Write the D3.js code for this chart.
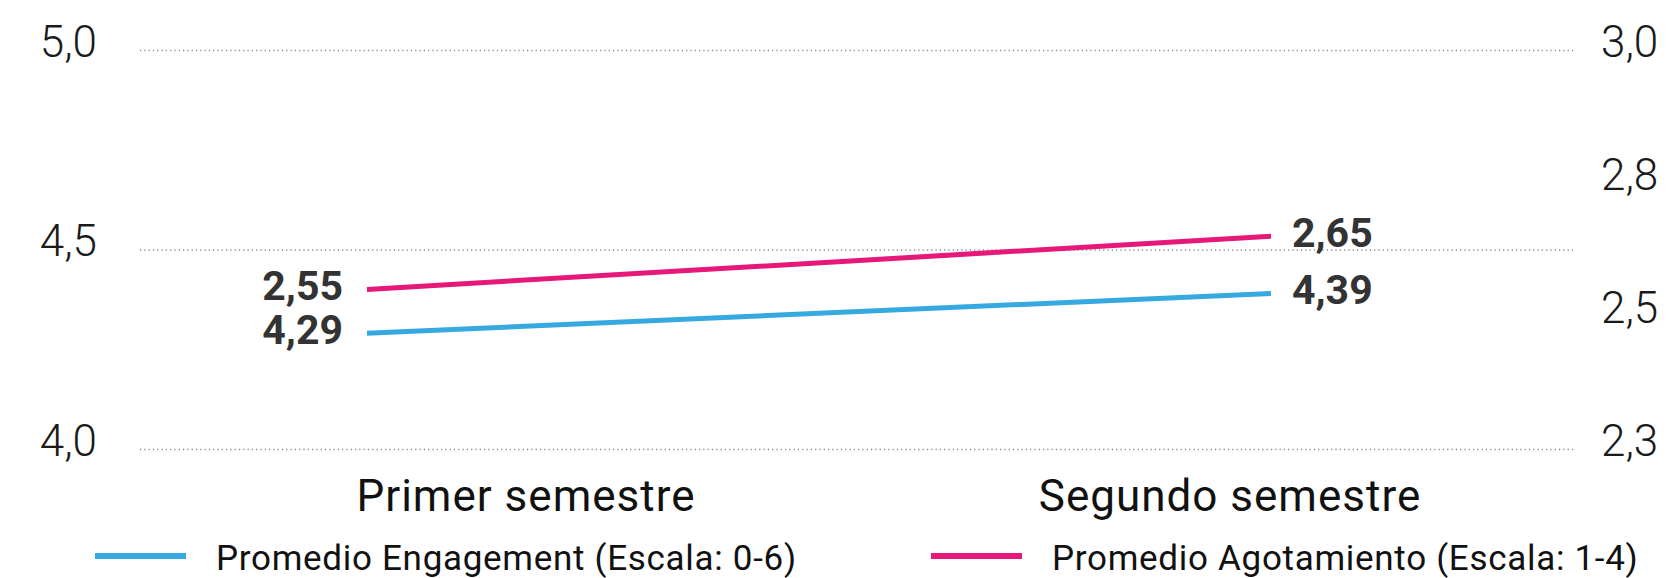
<!DOCTYPE html>
<html>
<head>
<meta charset="utf-8">
<script src="https://cdn.jsdelivr.net/npm/d3@7"></script>
<style>
  html, body { margin: 0; padding: 0; background: #ffffff; }
  svg { display: block; font-family: Roboto, "Open Sans", sans-serif; }
</style>
</head>
<body>
<svg id="chart" width="1669" height="578"></svg>
<script>
// Semester averages: engagement (0-6 scale) on the left axis,
// exhaustion (1-4 scale) on the right axis.
const categories = ["Primer semestre", "Segundo semestre"];
const engagement = [4.29, 4.39];
const agotamiento = [2.55, 2.65];
const leftTicks = [4.0, 4.5, 5.0];
const rightTicks = [2.25, 2.5, 2.75, 3.0];
const seriesNames = ["Promedio Engagement (Escala: 0-6)", "Promedio Agotamiento (Escala: 1-4)"];

const colors = { engagement: "#36a9e1", agotamiento: "#e6197a" };

const es = d3.formatLocale({ decimal: ",", thousands: ".", grouping: [3], currency: ["", " €"] });
const fmtAxis = es.format(".1f");
const fmtValue = es.format(".2f");

const svg = d3.select("#chart");

// Layout
const gridLeft = 140, gridRight = 1573;
const plotTop = 50, plotBottom = 449;

const yL = d3.scaleLinear().domain([4.0, 5.0]).range([plotBottom, plotTop]);
const yR = d3.scaleLinear().domain([2.25, 3.0]).range([plotBottom, plotTop]);
const xLine = d3.scalePoint().domain(categories).range([367, 1271]);
const xCat = d3.scaleBand().domain(categories).range([174, 1582]);

// Dotted horizontal gridlines on the left-axis ticks
const grid = svg.append("g")
  .attr("transform", `translate(${gridLeft},0)`)
  .call(d3.axisLeft(yL).tickValues(leftTicks).tickSize(-(gridRight - gridLeft)).tickFormat(""));
grid.select(".domain").remove();
grid.selectAll(".tick line")
  .attr("stroke", "#8a8a8a")
  .attr("stroke-width", 1.4)
  .attr("stroke-dasharray", "1.2,3.1");

// Left axis labels
const axL = svg.append("g")
  .attr("transform", "translate(97,0)")
  .call(d3.axisLeft(yL).tickValues(leftTicks).tickSize(0).tickPadding(0).tickFormat(fmtAxis));
axL.select(".domain").remove();
axL.selectAll("text")
  .attr("y", -8)
  .attr("fill", "#1a1a1a")
  .style("font-family", "Roboto, sans-serif")
  .style("font-weight", 300)
  .style("font-size", "44px");

// Right axis labels
const axR = svg.append("g")
  .attr("transform", "translate(1601,0)")
  .call(d3.axisRight(yR).tickValues(rightTicks).tickSize(0).tickPadding(0).tickFormat(fmtAxis));
axR.select(".domain").remove();
axR.selectAll("text")
  .attr("y", -8)
  .attr("fill", "#1a1a1a")
  .style("font-family", "Roboto, sans-serif")
  .style("font-weight", 300)
  .style("font-size", "44px");

// Category labels
const axX = svg.append("g")
  .attr("transform", `translate(0,${plotBottom})`)
  .call(d3.axisBottom(xCat).tickSize(0).tickPadding(0));
axX.select(".domain").remove();
axX.selectAll("text")
  .attr("y", 62)
  .attr("dy", 0)
  .attr("fill", "#111")
  .style("font-family", "Roboto, sans-serif")
  .style("font-size", "44px")
  .style("letter-spacing", "1px");

// Lines
const series = [
  { key: "engagement", values: engagement, y: yL },
  { key: "agotamiento", values: agotamiento, y: yR }
];

series.forEach(s => {
  const line = d3.line()
    .x((d, i) => xLine(categories[i]))
    .y(d => s.y(d));
  svg.append("path")
    .datum(s.values)
    .attr("fill", "none")
    .attr("stroke", colors[s.key])
    .attr("stroke-width", 5)
    .attr("d", line);

  // Value labels at each end of the line
  svg.append("g").selectAll("text")
    .data(s.values)
    .join("text")
    .attr("x", (d, i) => xLine(categories[i]) + (i === 0 ? -24 : 21))
    .attr("y", d => s.y(d) + 11)
    .attr("text-anchor", (d, i) => i === 0 ? "end" : "start")
    .attr("fill", "#333333")
    .style("font-family", "Roboto, sans-serif")
    .style("font-weight", 700)
    .style("font-size", "41px")
    .text(d => fmtValue(d));
});

// Legend
const legend = svg.append("g");
const legendX = [95, 931];
const legendKeys = ["engagement", "agotamiento"];
legendKeys.forEach((k, i) => {
  legend.append("line")
    .attr("x1", legendX[i]).attr("x2", legendX[i] + 91)
    .attr("y1", 556).attr("y2", 556)
    .attr("stroke", colors[k])
    .attr("stroke-width", 6);
  legend.append("text")
    .attr("x", legendX[i] + 121)
    .attr("y", 570)
    .attr("fill", "#111")
    .style("font-family", "Roboto, sans-serif")
    .style("font-size", "35px")
    .style("letter-spacing", "0.7px")
    .text(seriesNames[i]);
});
</script>
</body>
</html>
